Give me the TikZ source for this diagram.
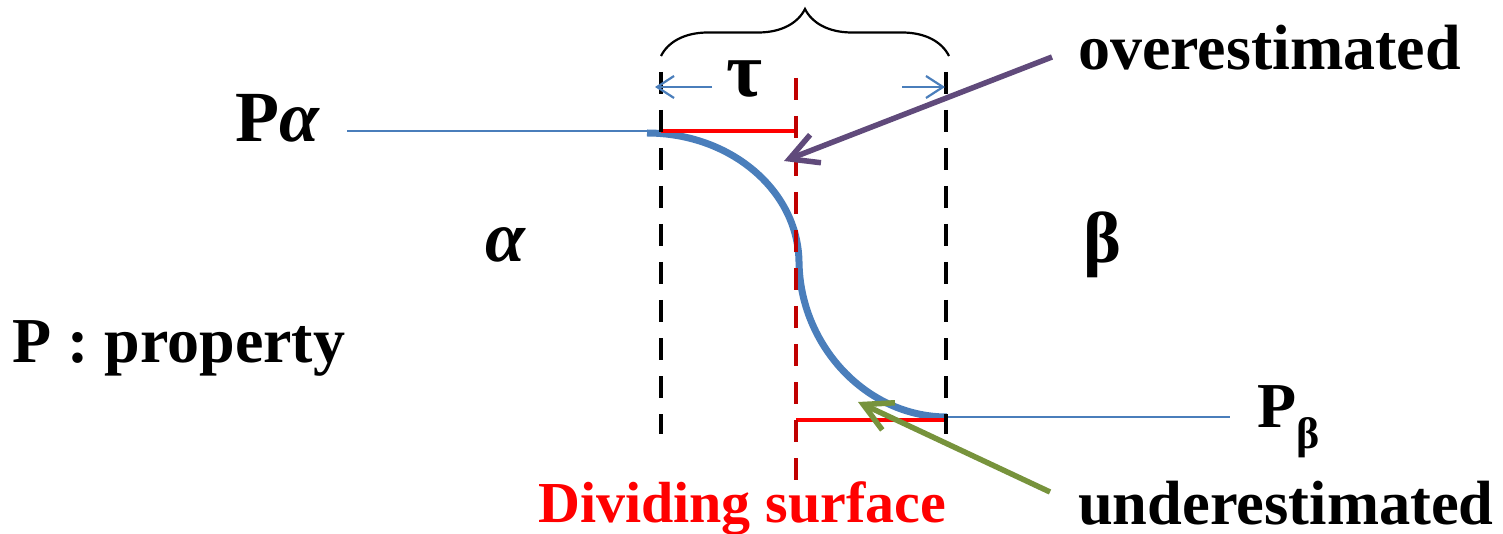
\documentclass[tikz,border=0pt]{standalone}
\usepackage{fontspec}
\setmainfont{Liberation Serif}
\usetikzlibrary{arrows.meta,decorations.pathreplacing}
\definecolor{curveblue}{HTML}{4A7EBB}
\definecolor{darkred}{HTML}{C00000}
\definecolor{overpurple}{HTML}{604A7B}
\definecolor{undergreen}{HTML}{77933C}
\tikzset{
  lbl/.style={font=\bfseries\fontsize{64}{64}\selectfont, inner sep=0pt, anchor=base west},
  biglbl/.style={font=\bfseries\fontsize{72}{72}\selectfont, inner sep=0pt, anchor=base west},
  blackdash/.style={line width=4.5pt, black, dash pattern=on 22pt off 16pt},
  reddash/.style={line width=4.5pt, darkred, dash pattern=on 22pt off 16pt},
  redlevel/.style={line width=4pt, red},
  thinblue/.style={line width=2pt, curveblue},
  thickblue/.style={line width=7pt, curveblue},
  widtharrow/.style={line width=2.2pt, curveblue, -{Straight Barb[length=17pt,width=22pt]}},
  pointer/.style={line width=5.5pt, -{Straight Barb[length=28pt,width=30pt]}},
  bracestyle/.style={line width=2.2pt, decorate, decoration={brace, amplitude=47pt}},
}
\begin{document}
\begin{tikzpicture}[x=1pt,y=-1pt]
\useasboundingbox (0,0) rectangle (1503,534);
% coordinates
\coordinate (la) at (347,131);
\coordinate (ca) at (661,131);
\coordinate (cs) at (647,133);
\coordinate (cm) at (799,262);
\coordinate (ce) at (947,417);
\coordinate (lb) at (1230,417);
\coordinate (Ltop) at (661,72);
\coordinate (Lbot) at (661,434);
\coordinate (Rtop) at (946,72);
\coordinate (Rbot) at (946,434);
\coordinate (Dtop) at (796,78);
\coordinate (Dbot) at (796,480);
\coordinate (rt1) at (661,131);
\coordinate (rt2) at (796,131);
\coordinate (rb1) at (796,420);
\coordinate (rb2) at (946,420);
\coordinate (bl) at (661,56);
\coordinate (br) at (949,56);
\coordinate (wl0) at (712,87);
\coordinate (wl1) at (655,87);
\coordinate (wr0) at (902,87);
\coordinate (wr1) at (945,87);
\coordinate (ov0) at (1052,57);
\coordinate (ov1) at (784,161);
\coordinate (un0) at (1050,492);
\coordinate (un1) at (858,402);

% level lines
\draw[thinblue] (la) -- (ca);
\draw[thinblue] (ce) -- (lb);
% profile curve
\draw[thickblue] (cs) .. controls (730,133) and (798,190) .. (cm)
                      .. controls (800,345) and (866,417) .. (ce);
% red level segments
\draw[redlevel] (rt1) -- (rt2);
\draw[redlevel] (rb1) -- (rb2);
% dashed boundaries
\draw[blackdash] (Ltop) -- (Lbot);
\draw[blackdash] (Rtop) -- (Rbot);
\draw[reddash] (Dtop) -- (Dbot);
% brace
\draw[bracestyle] (bl) -- (br);
% width arrows
\draw[widtharrow] (wl0) -- (wl1);
\draw[widtharrow] (wr0) -- (wr1);
% pointers
\draw[pointer, overpurple] (ov0) -- (ov1);
\draw[pointer, undergreen] (un0) -- (un1);

% labels
\node[biglbl] (pa) at (235,142) {P\textit{α}};
\node[biglbl] (alpha) at (485,262) {\textit{α}};
\node[biglbl] (beta) at (1083,263) {β};
\node[biglbl, font=\bfseries\fontsize{78}{78}\selectfont] (tau) at (726,97) {τ};
\node[lbl] (prop) at (12,362) {P : property};
\node[lbl] (pb) at (1257,427) {P\raisebox{-21pt}{\fontsize{44}{44}\selectfont β}};
\node[lbl] (over) at (1078,70) {overestimated};
\node[lbl, font=\bfseries\fontsize{62.5}{62.5}\selectfont] (under) at (1078,524) {underestimated};
\node[lbl, font=\bfseries\fontsize{58}{58}\selectfont, text=red] (div) at (538,522) {Dividing surface};
\end{tikzpicture}
\end{document}
